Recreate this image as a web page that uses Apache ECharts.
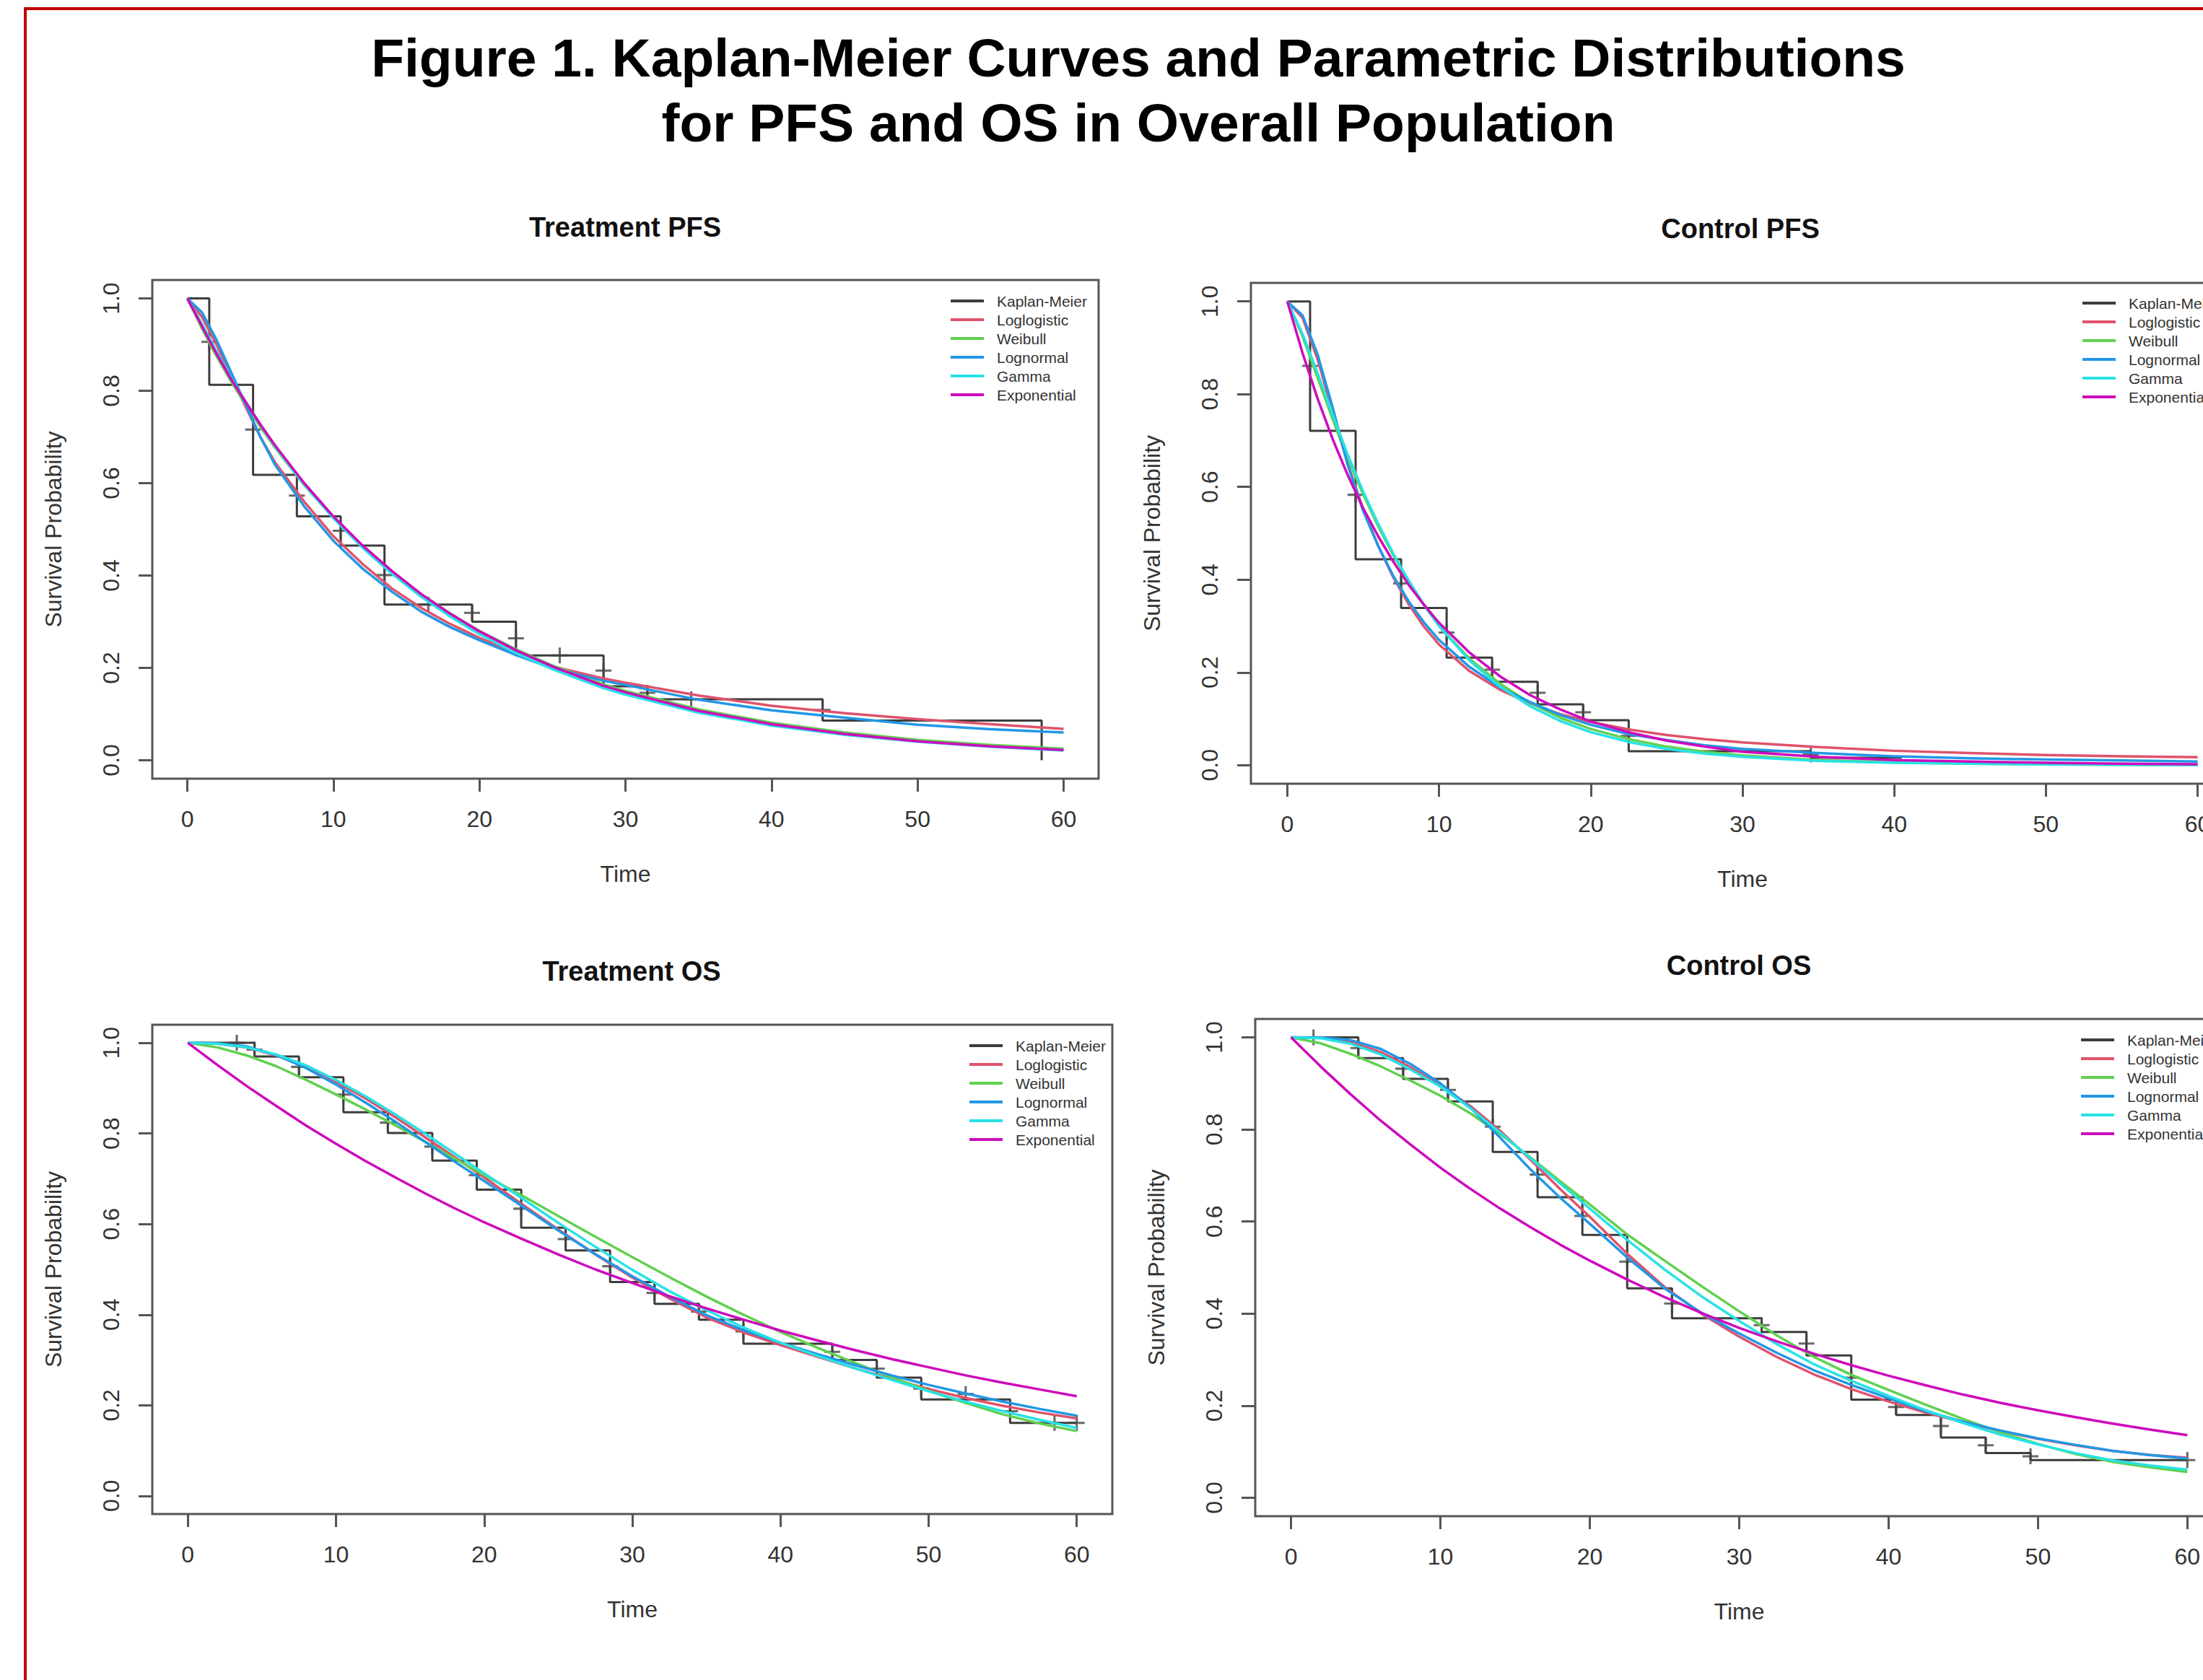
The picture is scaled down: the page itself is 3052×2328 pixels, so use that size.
<!DOCTYPE html>
<html><head><meta charset="utf-8">
<script src="https://cdn.jsdelivr.net/npm/echarts@6/dist/echarts.min.js"></script>
<style>html,body{margin:0;padding:0;background:#fff}#c{width:3052px;height:2328px}</style>
</head><body><div id="c"></div>
<script>
// ---------------- DATA ----------------
const seriesNames = ['Kaplan-Meier','Loglogistic','Weibull','Lognormal','Gamma','Exponential'];
const xTickValues = [0,10,20,30,40,50,60];
const xTickLabels = ['0','10','20','30','40','50','60'];
const yTickValues = [0,0.2,0.4,0.6,0.8,1.0];
const yTickLabels = ['0.0','0.2','0.4','0.6','0.8','1.0'];

// Treatment PFS
const tpfsKmTimes = [0,1.5,4.5,7.5,10.5,13.5,19.5,22.5,28.5,31.5,43.5,58.5];
const tpfsKmSurv  = [1.0,0.813,0.618,0.528,0.465,0.337,0.300,0.227,0.160,0.132,0.086,0.0];
const tpfsCensorTimes = [1.5,4.5,7.5,10.5,13.5,16.5,19.5,22.5,25.5,28.5,31.5,34.5,43.5];
const tpfsCensorSurv  = [0.906,0.716,0.573,0.497,0.401,0.337,0.319,0.264,0.227,0.194,0.146,0.132,0.109];
const tpfsTimes = [0,1,2,3,4,5,6,8,10,12,14,16,18,20,22.5,25,28.5,30,35,40,45,50,55,60];
const tpfsLoglogistic = [1,0.96,0.90,0.83,0.765,0.70,0.645,0.56,0.485,0.425,0.372,0.33,0.295,0.265,0.232,0.203,0.177,0.168,0.140,0.118,0.102,0.089,0.078,0.068];
const tpfsWeibull     = [1,0.935,0.875,0.82,0.77,0.722,0.677,0.596,0.525,0.463,0.408,0.36,0.318,0.28,0.24,0.205,0.164,0.15,0.11,0.081,0.06,0.044,0.033,0.025];
const tpfsLognormal   = [1,0.97,0.91,0.84,0.77,0.70,0.64,0.55,0.475,0.415,0.365,0.322,0.288,0.26,0.228,0.199,0.172,0.163,0.131,0.108,0.092,0.077,0.067,0.06];
const tpfsGamma       = [1,0.945,0.885,0.828,0.776,0.727,0.68,0.597,0.524,0.46,0.404,0.354,0.311,0.273,0.232,0.197,0.156,0.142,0.103,0.075,0.055,0.040,0.029,0.021];
const tpfsExponential = [1,0.94,0.88,0.825,0.775,0.727,0.682,0.60,0.528,0.465,0.41,0.36,0.317,0.279,0.238,0.203,0.161,0.147,0.107,0.078,0.057,0.041,0.030,0.022];

// Control PFS
const cpfsKmTimes = [0,1.5,4.5,7.5,10.5,13.5,16.5,19.5,22.5,34.5,40.5];
const cpfsKmSurv  = [1.0,0.721,0.444,0.339,0.232,0.180,0.131,0.097,0.030,0.016,0.016];
const cpfsCensorTimes = [1.5,4.5,7.5,10.5,13.5,16.5,19.5,22.5,34.5];
const cpfsCensorSurv  = [0.861,0.583,0.392,0.286,0.206,0.156,0.114,0.063,0.023];
const cpfsTimes = [0,1,2,3,4,5,6,7,8,9,10,12,14,16,18,20,22.5,25,27.5,30,35,40,45,50,55,60];
const cpfsLoglogistic = [1,0.965,0.875,0.76,0.648,0.552,0.472,0.404,0.347,0.299,0.26,0.203,0.163,0.133,0.11,0.093,0.077,0.065,0.056,0.049,0.039,0.031,0.026,0.022,0.019,0.017];
const cpfsWeibull     = [1,0.925,0.835,0.745,0.66,0.584,0.514,0.452,0.396,0.346,0.30,0.23,0.176,0.134,0.102,0.078,0.056,0.04,0.029,0.021,0.011,0.006,0.003,0.002,0.001,0.0005];
const cpfsLognormal   = [1,0.97,0.885,0.77,0.645,0.548,0.472,0.407,0.353,0.308,0.27,0.212,0.168,0.136,0.108,0.087,0.067,0.054,0.043,0.035,0.026,0.019,0.015,0.012,0.01,0.008];
const cpfsGamma       = [1,0.93,0.845,0.755,0.668,0.59,0.52,0.455,0.398,0.346,0.30,0.226,0.17,0.127,0.095,0.071,0.05,0.035,0.025,0.018,0.009,0.005,0.003,0.0015,0.001,0.0005];
const cpfsExponential = [1,0.889,0.79,0.702,0.624,0.554,0.493,0.438,0.389,0.346,0.307,0.243,0.192,0.151,0.12,0.094,0.071,0.053,0.040,0.029,0.018,0.011,0.008,0.005,0.003,0.002];

// Treatment OS
const tosKmTimes = [0,4.5,7.5,10.5,13.5,16.5,19.5,22.5,25.5,28.5,31.5,34.5,37.5,43.5,46.5,49.5,55.5,60];
const tosKmSurv  = [1.0,0.97,0.924,0.847,0.801,0.74,0.676,0.592,0.542,0.472,0.424,0.389,0.336,0.300,0.261,0.213,0.161,0.161];
const tosCensorTimes = [3.3,4.5,7.5,10.5,13.5,16.5,19.5,22.5,25.5,28.5,31.5,34.5,37.5,43.5,46.5,49.5,52.5,55.5,58.5,60];
const tosCensorSurv  = [1.0,0.985,0.947,0.886,0.824,0.771,0.708,0.634,0.567,0.507,0.448,0.407,0.363,0.318,0.281,0.237,0.225,0.187,0.161,0.161];
const tosTimes = [0,2,4,6,8,10,12,14,16,18,20,22.5,25,27.5,30,32.5,35,37.5,40,42.5,45,47.5,50,52.5,55,57.5,60];
const tosLoglogistic = [1,0.998,0.99,0.972,0.946,0.914,0.877,0.836,0.792,0.748,0.703,0.645,0.588,0.533,0.482,0.436,0.394,0.361,0.333,0.307,0.282,0.258,0.236,0.216,0.199,0.184,0.171];
const tosWeibull     = [1,0.99,0.972,0.948,0.918,0.886,0.853,0.818,0.782,0.745,0.708,0.664,0.618,0.572,0.527,0.483,0.44,0.40,0.362,0.327,0.294,0.262,0.232,0.205,0.18,0.16,0.143];
const tosLognormal   = [1,0.999,0.992,0.973,0.944,0.908,0.868,0.826,0.782,0.738,0.695,0.641,0.586,0.534,0.485,0.44,0.399,0.366,0.338,0.313,0.289,0.266,0.245,0.226,0.208,0.192,0.177];
const tosGamma       = [1,0.998,0.99,0.974,0.95,0.918,0.882,0.842,0.80,0.756,0.712,0.658,0.603,0.55,0.499,0.452,0.41,0.372,0.338,0.309,0.282,0.256,0.231,0.208,0.187,0.168,0.150];
const tosExponential = [1,0.951,0.904,0.86,0.817,0.777,0.739,0.703,0.668,0.635,0.604,0.568,0.533,0.50,0.47,0.441,0.414,0.389,0.365,0.343,0.322,0.302,0.284,0.266,0.25,0.235,0.22];

// Control OS
const cosKmTimes = [0,4.5,7.5,10.5,13.5,16.5,19.5,22.5,25.5,31.5,34.5,37.5,40.5,43.5,46.5,49.5,60];
const cosKmSurv  = [1.0,0.955,0.91,0.861,0.751,0.653,0.571,0.455,0.390,0.36,0.309,0.213,0.18,0.131,0.097,0.082,0.082];
const cosCensorTimes = [1.5,4.5,7.5,10.5,13.5,16.5,19.5,22.5,25.5,31.5,34.5,37.5,40.5,43.5,46.5,49.5,60];
const cosCensorSurv  = [1.0,0.977,0.932,0.886,0.806,0.702,0.612,0.513,0.422,0.375,0.335,0.261,0.197,0.156,0.114,0.09,0.082];
const cosTimes = [0,2,4,6,8,10,12,14,16,18,20,22.5,25,27.5,30,32.5,35,37.5,40,42.5,45,47.5,50,52.5,55,57.5,60];
const cosLoglogistic = [1,0.999,0.99,0.968,0.935,0.895,0.851,0.797,0.735,0.671,0.61,0.53,0.458,0.399,0.35,0.306,0.268,0.236,0.209,0.185,0.164,0.145,0.128,0.114,0.102,0.093,0.087];
const cosWeibull     = [1,0.987,0.964,0.937,0.906,0.873,0.835,0.79,0.74,0.688,0.637,0.572,0.515,0.459,0.405,0.353,0.306,0.267,0.234,0.202,0.171,0.142,0.117,0.095,0.078,0.066,0.056];
const cosLognormal   = [1,1.0,0.994,0.975,0.942,0.9,0.847,0.782,0.714,0.652,0.595,0.522,0.455,0.401,0.357,0.315,0.277,0.245,0.216,0.188,0.165,0.146,0.129,0.115,0.102,0.093,0.085];
const cosGamma       = [1,0.998,0.986,0.963,0.93,0.893,0.846,0.793,0.738,0.683,0.628,0.56,0.496,0.437,0.384,0.334,0.29,0.254,0.221,0.19,0.162,0.137,0.116,0.097,0.081,0.07,0.061];
const cosExponential = [1,0.936,0.876,0.819,0.767,0.717,0.671,0.628,0.588,0.55,0.515,0.474,0.436,0.401,0.369,0.34,0.313,0.288,0.265,0.244,0.224,0.206,0.19,0.175,0.161,0.148,0.136];

// ---------------- LAYOUT / STYLE ----------------
const FONT = '"Liberation Sans", Arial, Helvetica, sans-serif';
const lineColors = ['#3c3c3c','#DF536B','#61D04F','#2297E6','#28E2E5','#CD0BBC'];
const panels = [
  {title:'Treatment PFS', box:[211,388,1311,691], titleXY:[866,315], legend:[1317,406],
   km:[tpfsKmTimes,tpfsKmSurv], cens:[tpfsCensorTimes,tpfsCensorSurv], t:tpfsTimes,
   curves:[tpfsLoglogistic,tpfsWeibull,tpfsLognormal,tpfsGamma,tpfsExponential]},
  {title:'Control PFS', box:[1733,392,1362,694], titleXY:[2411,317], legend:[2885,409],
   km:[cpfsKmTimes,cpfsKmSurv], cens:[cpfsCensorTimes,cpfsCensorSurv], t:cpfsTimes,
   curves:[cpfsLoglogistic,cpfsWeibull,cpfsLognormal,cpfsGamma,cpfsExponential]},
  {title:'Treatment OS', box:[211,1420,1330,678], titleXY:[875,1346], legend:[1343,1438],
   km:[tosKmTimes,tosKmSurv], cens:[tosCensorTimes,tosCensorSurv], t:tosTimes,
   curves:[tosLoglogistic,tosWeibull,tosLognormal,tosGamma,tosExponential]},
  {title:'Control OS', box:[1739,1412,1341,689], titleXY:[2409,1338], legend:[2883,1430],
   km:[cosKmTimes,cosKmSurv], cens:[cosCensorTimes,cosCensorSurv], t:cosTimes,
   curves:[cosLoglogistic,cosWeibull,cosLognormal,cosGamma,cosExponential]}
];

const zip = (a,b) => a.map((v,i)=>[v,b[i]]);
const plusPath = 'path://M0,8.6H20V11.4H0Z M8.6,0H11.4V20H8.6Z';

const grid=[], xAxis=[], yAxis=[], series=[], legend=[], graphic=[];
panels.forEach((p,i)=>{
  grid.push({left:p.box[0], top:p.box[1], width:p.box[2], height:p.box[3], show:true,
    borderColor:'#555', borderWidth:3, backgroundColor:'rgba(0,0,0,0)', containLabel:false, outerBoundsMode:'none'});
  xAxis.push({type:'value', gridIndex:i, min:-2.4, max:62.4, position:'bottom',
    axisLine:{show:false, onZero:false}, splitLine:{show:false},
    axisTick:{show:true, customValues:xTickValues, length:18, lineStyle:{color:'#555', width:3}},
    axisLabel:{show:true, customValues:xTickValues, margin:40, fontSize:32, color:'#333', fontFamily:FONT,
      formatter:v=>{const k=xTickValues.indexOf(v); return k>=0?xTickLabels[k]:String(v);}},
    name:'Time', nameLocation:'middle', nameGap:116,
    nameTextStyle:{fontSize:32, color:'#333', fontFamily:FONT}});
  yAxis.push({type:'value', gridIndex:i, min:-0.04, max:1.04, position:'left',
    axisLine:{show:false, onZero:false}, splitLine:{show:false},
    axisTick:{show:true, customValues:yTickValues, length:19, lineStyle:{color:'#555', width:3}},
    axisLabel:{show:true, customValues:yTickValues, rotate:90, margin:41, fontSize:32, color:'#333', fontFamily:FONT,
      formatter:v=>{const k=yTickValues.findIndex(u=>Math.abs(u-v)<1e-9); return k>=0?yTickLabels[k]:v.toFixed(1);}},
    name:'Survival Probability', nameLocation:'middle', nameGap:121, nameRotate:90,
    nameTextStyle:{fontSize:32, color:'#333', fontFamily:FONT}});
  series.push({type:'line', name:seriesNames[0], xAxisIndex:i, yAxisIndex:i, step:'end',
    data:zip(p.km[0],p.km[1]), showSymbol:false, symbol:'none',
    lineStyle:{color:lineColors[0], width:3}, itemStyle:{color:lineColors[0]}, z:2});
  series.push({type:'scatter', name:'censor', xAxisIndex:i, yAxisIndex:i,
    data:zip(p.cens[0],p.cens[1]), symbol:plusPath, symbolSize:22,
    itemStyle:{color:'#444'}, z:2});
  p.curves.forEach((vals,k)=>{
    series.push({type:'line', name:seriesNames[k+1], xAxisIndex:i, yAxisIndex:i,
      data:zip(p.t, vals), showSymbol:false, symbol:'none', smooth:false,
      lineStyle:{color:lineColors[k+1], width:3.5, join:'round'}, itemStyle:{color:lineColors[k+1]}, z:3});
  });
  legend.push({data:seriesNames, orient:'vertical', left:p.legend[0], top:p.legend[1], padding:0,
    icon:'rect', itemWidth:46, itemHeight:4, itemGap:4, selectedMode:false,
    textStyle:{fontSize:21, lineHeight:22, color:'#333', fontFamily:FONT, padding:[0,0,0,13]}});
  graphic.push({type:'text', x:p.titleXY[0], y:p.titleXY[1], silent:true,
    style:{text:p.title, align:'center', verticalAlign:'middle', fill:'#111',
      font:'bold 38px ' + FONT}});
});

graphic.push({type:'text', x:1577, y:80, silent:true,
  style:{text:'Figure 1. Kaplan-Meier Curves and Parametric Distributions', align:'center', verticalAlign:'middle',
    fill:'#000', font:'bold 75px ' + FONT}});
graphic.push({type:'text', x:1577, y:170, silent:true,
  style:{text:'for PFS and OS in Overall Population', align:'center', verticalAlign:'middle',
    fill:'#000', font:'bold 75px ' + FONT}});
graphic.push({type:'line', silent:true, shape:{x1:35, y1:12, x2:3052, y2:12}, style:{stroke:'#C00000', lineWidth:4}});
graphic.push({type:'line', silent:true, shape:{x1:35, y1:10, x2:35, y2:2328}, style:{stroke:'#C00000', lineWidth:4}});

const chart = echarts.init(document.getElementById('c'), null, {renderer:'svg', width:3052, height:2328});
chart.setOption({
  backgroundColor:'#ffffff', animation:false,
  grid, xAxis, yAxis, series, legend, graphic
});
</script></body></html>
